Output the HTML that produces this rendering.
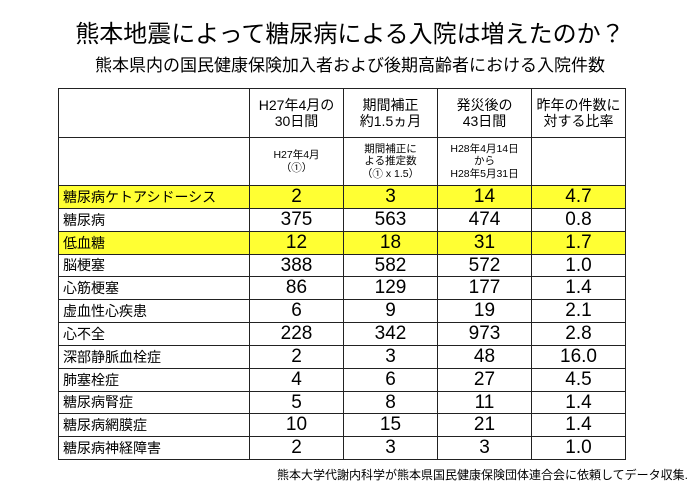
<!DOCTYPE html>
<html><head><meta charset="utf-8"><style>
body{margin:0;width:700px;height:495px;background:#fff;font-family:"Liberation Sans","Noto Sans CJK JP",sans-serif;color:#000;position:relative;overflow:hidden}
.t{position:absolute;left:0;width:700px;text-align:center;white-space:nowrap}
table{position:absolute;left:58px;top:88px;border-collapse:collapse;table-layout:fixed}
td{border:1.5px solid #222;padding:0;text-align:center;white-space:nowrap;line-height:1.15}
td.l{text-align:left;padding-left:4px;font-size:14px}
td.n{font-size:19px}
tr.d td{height:21.7px}
tr.y td{background:#ffff33}
.h td{font-size:14px}
.s td{font-size:10.5px}
</style></head><body>
<div class="t" style="top:14px;font-size:24px;">熊本地震によって糖尿病による入院は増えたのか？</div>
<div class="t" style="top:51px;font-size:17px;">熊本県内の国民健康保険加入者および後期高齢者における入院件数</div>
<table>
<colgroup><col style="width:191px"><col style="width:94px"><col style="width:94px"><col style="width:94px"><col style="width:94px"></colgroup>
<tr class="h"><td style="height:48px"></td><td>H27年4月の<br>30日間</td><td>期間補正<br>約1.5ヵ月</td><td>発災後の<br>43日間</td><td>昨年の件数に<br>対する比率</td></tr>
<tr class="s"><td style="height:47px"></td><td>H27年4月<br>（①）</td><td>期間補正に<br>よる推定数<br>（① x 1.5）</td><td>H28年4月14日<br>から<br>H28年5月31日</td><td></td></tr>
<tr class="d y"><td class="l">糖尿病ケトアシドーシス</td><td class="n">2</td><td class="n">3</td><td class="n">14</td><td class="n">4.7</td></tr>
<tr class="d"><td class="l">糖尿病</td><td class="n">375</td><td class="n">563</td><td class="n">474</td><td class="n">0.8</td></tr>
<tr class="d y"><td class="l">低血糖</td><td class="n">12</td><td class="n">18</td><td class="n">31</td><td class="n">1.7</td></tr>
<tr class="d"><td class="l">脳梗塞</td><td class="n">388</td><td class="n">582</td><td class="n">572</td><td class="n">1.0</td></tr>
<tr class="d"><td class="l">心筋梗塞</td><td class="n">86</td><td class="n">129</td><td class="n">177</td><td class="n">1.4</td></tr>
<tr class="d"><td class="l">虚血性心疾患</td><td class="n">6</td><td class="n">9</td><td class="n">19</td><td class="n">2.1</td></tr>
<tr class="d"><td class="l">心不全</td><td class="n">228</td><td class="n">342</td><td class="n">973</td><td class="n">2.8</td></tr>
<tr class="d"><td class="l">深部静脈血栓症</td><td class="n">2</td><td class="n">3</td><td class="n">48</td><td class="n">16.0</td></tr>
<tr class="d"><td class="l">肺塞栓症</td><td class="n">4</td><td class="n">6</td><td class="n">27</td><td class="n">4.5</td></tr>
<tr class="d"><td class="l">糖尿病腎症</td><td class="n">5</td><td class="n">8</td><td class="n">11</td><td class="n">1.4</td></tr>
<tr class="d"><td class="l">糖尿病網膜症</td><td class="n">10</td><td class="n">15</td><td class="n">21</td><td class="n">1.4</td></tr>
<tr class="d"><td class="l">糖尿病神経障害</td><td class="n">2</td><td class="n">3</td><td class="n">3</td><td class="n">1.0</td></tr>
</table>
<div style="position:absolute;right:12px;top:466px;font-size:12px;white-space:nowrap">熊本大学代謝内科学が熊本県国民健康保険団体連合会に依頼してデータ収集.</div>
</body></html>
